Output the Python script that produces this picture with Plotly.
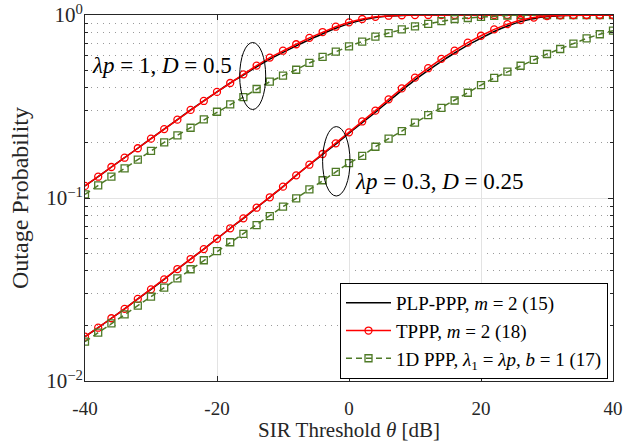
import plotly.graph_objects as go

# SIR threshold grid (dB)
theta_db = list(range(-40, 41, 2))

# lambda*p = 1, D = 0.5
plp_hi = [0.1164, 0.1307, 0.1477, 0.166, 0.187, 0.211, 0.238, 0.268, 0.303, 0.339,
          0.380, 0.425, 0.470, 0.521, 0.574, 0.625, 0.678, 0.733, 0.790, 0.846,
          0.897, 0.940, 0.970, 0.987, 0.995, 0.9985, 0.9996, 1.0, 1.0, 1.0,
          1.0, 1.0, 1.0, 1.0, 1.0, 1.0, 1.0, 1.0, 1.0, 1.0, 1.0]
tppp_hi = [0.1164, 0.1307, 0.1477, 0.166, 0.187, 0.211, 0.238, 0.268, 0.303, 0.339,
           0.380, 0.425, 0.474, 0.529, 0.585, 0.638, 0.692, 0.750, 0.807, 0.863,
           0.912, 0.951, 0.977, 0.991, 0.9966, 0.9989, 0.9997, 1.0, 1.0, 1.0,
           1.0, 1.0, 1.0, 1.0, 1.0, 1.0, 1.0, 1.0, 1.0, 1.0, 1.0]
ppp1d_hi = [0.1047, 0.1173, 0.1307, 0.145, 0.162, 0.181, 0.2015, 0.220, 0.242, 0.269,
            0.296, 0.325, 0.356, 0.394, 0.432, 0.466, 0.502, 0.547, 0.590, 0.630,
            0.674, 0.715, 0.761, 0.797, 0.835, 0.867, 0.895, 0.925, 0.951, 0.963,
            0.976, 0.988, 0.994, 0.998, 0.999, 0.9996, 1.0, 1.0, 1.0, 1.0, 1.0]

# lambda*p = 0.3, D = 0.25
plp_lo = [0.01746, 0.01955, 0.02202, 0.0248, 0.0281, 0.0317, 0.0359, 0.0409, 0.0464, 0.0526,
          0.0599, 0.0683, 0.0774, 0.0885, 0.1009, 0.1153, 0.133, 0.152, 0.173, 0.197,
          0.226, 0.258, 0.294, 0.338, 0.387, 0.442, 0.498, 0.558, 0.620, 0.685,
          0.746, 0.812, 0.870, 0.920, 0.956, 0.980, 0.992, 0.997, 0.999, 1.0, 1.0]
tppp_lo = [0.01746, 0.01955, 0.02202, 0.0248, 0.0281, 0.0317, 0.0359, 0.0409, 0.0464, 0.0526,
           0.0599, 0.0683, 0.0774, 0.0885, 0.1009, 0.1153, 0.133, 0.152, 0.174, 0.199,
           0.2285, 0.262, 0.300, 0.346, 0.397, 0.4545, 0.512, 0.576, 0.638, 0.706,
           0.770, 0.835, 0.891, 0.939, 0.968, 0.987, 0.995, 0.998, 0.9995, 1.0, 1.0]
ppp1d_lo = [0.0164, 0.01836, 0.02066, 0.0231, 0.0258, 0.0289, 0.0324, 0.0364, 0.0408, 0.0457,
            0.0512, 0.0573, 0.0636, 0.0711, 0.0797, 0.0897, 0.0996, 0.1115, 0.125, 0.139,
            0.155, 0.170, 0.1906, 0.211, 0.232, 0.258, 0.284, 0.311, 0.341, 0.376,
            0.414, 0.453, 0.490, 0.528, 0.568, 0.612, 0.652, 0.697, 0.745, 0.785, 0.821]

x_ticks = [-40, -20, 0, 20, 40]
x_tick_text = ["-40", "-20", "0", "20", "40"]
y_ticks = [0.01, 0.1, 1]
y_tick_text = ["10<sup>\u22122</sup>", "10<sup>\u22121</sup>", "10<sup>0</sup>"]
y_minor = [k * 0.01 for k in range(2, 10)] + [k * 0.1 for k in range(2, 10)]

names = ["PLP-PPP, <i>m</i> = 2 (15)",
         "TPPP, <i>m</i> = 2 (18)",
         "1D PPP, <i>\u03bb</i><sub>1</sub> = <i>\u03bbp</i>, <i>b</i> = 1 (17)"]

FONT = "Liberation Serif"
GREEN = "#4e7a26"
AX = "#262626"

fig = go.Figure()

for i, (plp, tppp, ppp1d) in enumerate([(plp_hi, tppp_hi, ppp1d_hi), (plp_lo, tppp_lo, ppp1d_lo)]):
    first = i == 0
    fig.add_trace(go.Scatter(x=theta_db, y=plp, mode="lines", name=names[0],
                             line=dict(color="black", width=1.5, shape="spline", smoothing=0.6),
                             showlegend=first, legendgroup="plp"))
    fig.add_trace(go.Scatter(x=theta_db, y=tppp, mode="lines+markers", name=names[1],
                             line=dict(color="#ff0000", width=1.5),
                             marker=dict(symbol="circle-open", size=7, color="#ff0000",
                                         line=dict(width=1.3)),
                             showlegend=first, legendgroup="tppp"))
    fig.add_trace(go.Scatter(x=theta_db, y=ppp1d, mode="lines+markers", name=names[2],
                             line=dict(color=GREEN, width=1.5, dash="6px,4px"),
                             marker=dict(symbol="square-open", size=7, color=GREEN,
                                         line=dict(width=1.3)),
                             showlegend=first, legendgroup="ppp1d"))

# plot-area pixel geometry: x 85..613, y 15..381
def px(x):
    return (x - 85) / 528.0

def py(y):
    return (381 - y) / 366.0

shapes = [
    dict(type="circle", xref="paper", yref="paper",
         x0=px(239.7), x1=px(265.7), y0=py(109.5), y1=py(42.5),
         line=dict(color="black", width=1)),
    dict(type="circle", xref="paper", yref="paper",
         x0=px(322.6), x1=px(350.0), y0=py(196.0), y1=py(126.6),
         line=dict(color="black", width=1)),
]

annotations = [
    dict(text="<i>\u03bbp</i> = 1, <i>D</i> = 0.5", xref="paper", yref="paper",
         x=px(90), y=py(65), xanchor="left", yanchor="middle", showarrow=False,
         font=dict(family=FONT, size=23, color="black")),
    dict(text="<i>\u03bbp</i> = 0.3, <i>D</i> = 0.25", xref="paper", yref="paper",
         x=px(353), y=py(182), xanchor="left", yanchor="middle", showarrow=False,
         font=dict(family=FONT, size=23, color="black")),
    # x-axis title
    dict(text="SIR Threshold <i>\u03b8</i> [dB]", xref="paper", yref="paper",
         x=0.5, y=py(444), xanchor="center", yanchor="bottom", showarrow=False,
         font=dict(family=FONT, size=21, color=AX)),
]

fig.update_layout(
    width=624, height=445,
    margin=dict(l=85, r=11, t=15, b=64, autoexpand=False),
    paper_bgcolor="white", plot_bgcolor="white",
    font=dict(family=FONT, size=18, color=AX),
    shapes=shapes, annotations=annotations,
    legend=dict(x=px(608), y=py(379), xanchor="right", yanchor="bottom",
                bgcolor="white", bordercolor="black", borderwidth=1,
                font=dict(family=FONT, size=19, color="black"),
                itemwidth=45, tracegroupgap=0),
    xaxis=dict(range=[-40, 40], tickvals=x_ticks, ticktext=x_tick_text, automargin=False,
               ticks="inside", ticklen=5, tickcolor=AX, ticklabelstandoff=10,
               showline=True, linecolor=AX, linewidth=1, mirror="allticks",
               showgrid=True, gridcolor="#e3e3e3", gridwidth=1, zeroline=False,
               tickfont=dict(family=FONT, size=19, color=AX)),
    yaxis=dict(type="log", range=[-2, 0], tickvals=y_ticks, ticktext=y_tick_text, automargin=False,
               ticks="inside", ticklen=5, tickcolor=AX, ticklabelstandoff=-3,
               showline=True, linecolor=AX, linewidth=1, mirror="allticks",
               showgrid=True, gridcolor="#e3e3e3", gridwidth=1, zeroline=False,
               minor=dict(tickvals=y_minor, ticks="inside", ticklen=3, tickcolor=AX,
                          showgrid=True, gridcolor="#9a9a9a", griddash="1px,5px", gridwidth=1),
               title=dict(text="Outage Probability", standoff=10,
                          font=dict(family=FONT, size=24, color=AX)),
               tickfont=dict(family=FONT, size=21, color=AX)),
)

fig.write_html("out.html")
